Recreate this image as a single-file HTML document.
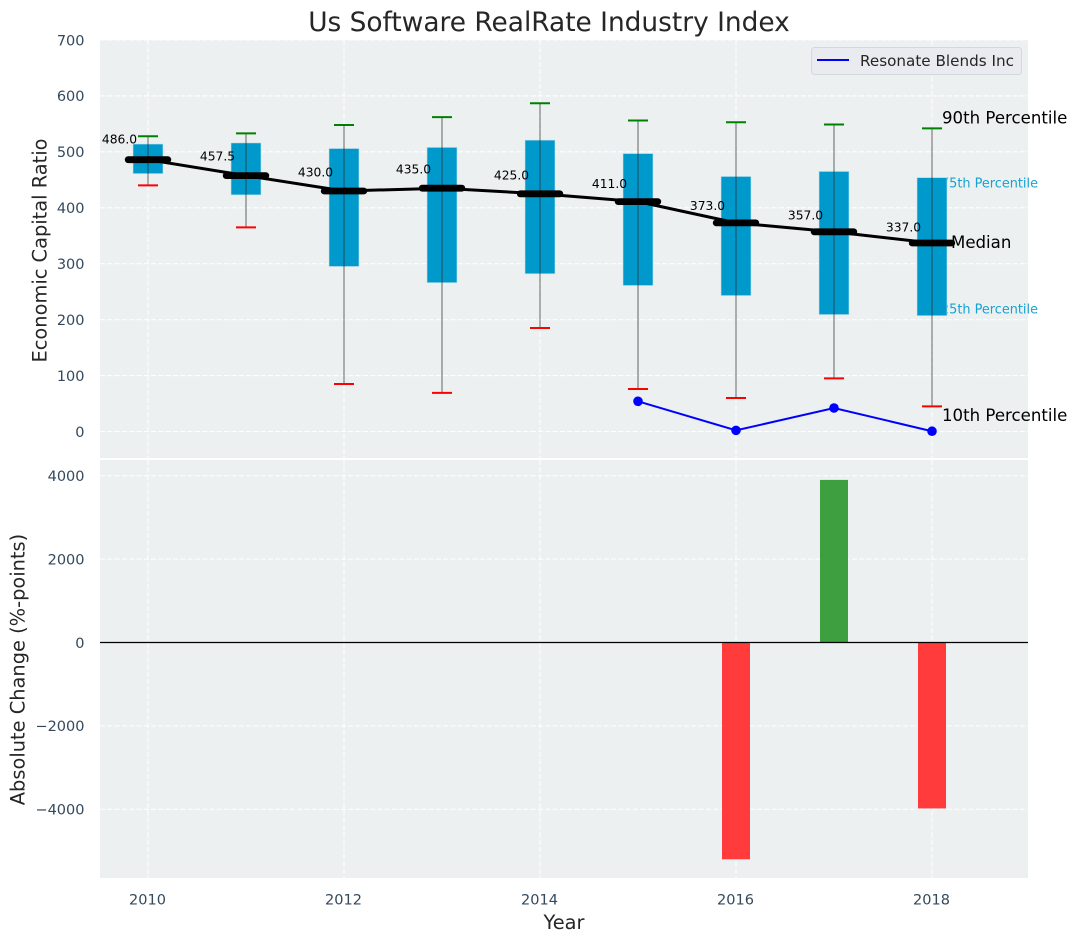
<!DOCTYPE html>
<html lang="en">
<head>
<meta charset="utf-8">
<title>Us Software RealRate Industry Index</title>
<style>
html,body{margin:0;padding:0;background:#fff;width:1077px;height:942px;overflow:hidden}
svg{display:block;font-family:"DejaVu Sans","Liberation Sans",sans-serif}
</style>
</head>
<body>
<svg id="chart" xmlns="http://www.w3.org/2000/svg" width="1077" height="942" viewBox="0 0 1077 942">
  <text x="549" y="31" font-size="26.4" fill="#262626" text-anchor="middle">Us Software RealRate Industry Index</text>
  <rect x="100" y="40" width="928" height="418" fill="#ecf0f1"/>
  <rect x="100" y="460" width="928" height="418" fill="#ecf0f1"/>
  <g id="gridLayer"></g>
  <g id="ticksLayer"></g>
  <g id="annotUnder"></g>
  <g id="boxLayer"></g>
  <g id="medianLayer"></g>
  <g id="companyLayer"></g>
  <g id="barLayer"></g>
  <g id="annotOver"></g>
  <text transform="translate(46.5,250.5) rotate(-90)" font-size="19.4" fill="#262626" text-anchor="middle">Economic Capital Ratio</text>
  <text transform="translate(24.5,669.5) rotate(-90)" font-size="19.4" fill="#262626" text-anchor="middle">Absolute Change (%-points)</text>
  <text x="564" y="929" font-size="19.4" fill="#262626" text-anchor="middle">Year</text>
  <g>
    <rect x="811.5" y="47.5" width="210" height="27" rx="3" fill="#e9ebf0" stroke="#d4d7dc"/>
    <line x1="817" y1="60" x2="849" y2="60" stroke="#0000ff" stroke-width="2"/>
    <text x="860" y="66" font-size="15.2" fill="#262626">Resonate Blends Inc</text>
  </g>
</svg>
<script>
const years = [2010, 2011, 2012, 2013, 2014, 2015, 2016, 2017, 2018];
const p10 = [440, 365, 85, 69, 185, 76, 60, 95, 45];
const p25 = [461, 423, 295, 266, 282, 261, 243, 209, 207];
const medians = [486, 457.5, 430, 435, 425, 411, 373, 357, 337];
const p75 = [514, 516, 506, 508, 521, 497, 456, 465, 454];
const p90 = [528, 533, 548, 562, 587, 556, 553, 549, 542];
const companyYears = [2015, 2016, 2017, 2018];
const companyValues = [54, 2, 42, 0.5];
const changeYears = [2016, 2017, 2018];
const changeValues = [-5200, 3900, -3980];
const topTicks = [0, 100, 200, 300, 400, 500, 600, 700];
const bottomTicks = [-4000, -2000, 0, 2000, 4000];
const xTicks = [2010, 2012, 2014, 2016, 2018];

const NS = 'http://www.w3.org/2000/svg';
const xS = function (v) { return 148 + (v - 2010) * 98; };
const yTop = function (v) { return 431.5 - v * 0.5593; };
const yBot = function (v) { return 642.5 - v * 0.04169; };

function mk(parent, tag, attrs, txt) {
  const el = document.createElementNS(NS, tag);
  for (const k in attrs) el.setAttribute(k, attrs[k]);
  if (txt !== undefined) el.textContent = txt;
  document.getElementById(parent).appendChild(el);
  return el;
}

let el;
const gridStyle = { stroke: '#ffffff', 'stroke-width': 1.1, 'stroke-dasharray': '5.1 2.2', opacity: 0.95 };
const tickSize = 14.5;

topTicks.forEach(function (t) {
  el = mk('gridLayer', 'line', Object.assign({ x1: 100, x2: 1028, y1: yTop(t), y2: yTop(t) }, gridStyle));
  
  
  el = mk('ticksLayer', 'text', { x: 84.5, y: yTop(t) + 5.3, 'font-size': tickSize, fill: '#34495e', 'text-anchor': 'end' }, String(t));
  
  
});

bottomTicks.forEach(function (t) {
  el = mk('gridLayer', 'line', Object.assign({ x1: 100, x2: 1028, y1: yBot(t), y2: yBot(t) }, gridStyle));
  
  
  el = mk('ticksLayer', 'text', { x: 84.5, y: yBot(t) + 5.3, 'font-size': tickSize, fill: '#34495e', 'text-anchor': 'end' }, String(t).replace('-', '\u2212'));
  
  
});

xTicks.forEach(function (t) {
  el = mk('gridLayer', 'line', Object.assign({ x1: xS(t), x2: xS(t), y1: 40, y2: 458 }, gridStyle));
  
  
  el = mk('gridLayer', 'line', Object.assign({ x1: xS(t), x2: xS(t), y1: 460, y2: 878 }, gridStyle));
  
  
  el = mk('ticksLayer', 'text', { x: xS(t) - 0.5, y: 904.5, 'font-size': tickSize, fill: '#34495e', 'text-anchor': 'middle' }, String(t));
  
  
});

const lastIdx = years.length - 1;
const lastX = xS(years[lastIdx]);

el = mk('annotUnder', 'text', { x: lastX + 9, y: yTop(p75[lastIdx]) + 10, 'font-size': 12.85, fill: '#0099cc', opacity: 0.9 }, '75th Percentile');


el = mk('annotUnder', 'text', { x: lastX + 9, y: yTop(p25[lastIdx]) - 2, 'font-size': 12.85, fill: '#0099cc', opacity: 0.9 }, '25th Percentile');



years.forEach(function (yr, i) {
  const cx = xS(yr);
  el = mk('boxLayer', 'rect', { x: cx - 15, y: yTop(p75[i]), width: 30, height: yTop(p25[i]) - yTop(p75[i]), fill: '#0099cc', stroke: '#c5e3ee', 'stroke-width': 0.6 });
  
  
  el = mk('boxLayer', 'line', { x1: cx, x2: cx, y1: yTop(p90[i]), y2: yTop(p10[i]), stroke: '#2c2c2c', 'stroke-width': 1.3, opacity: 0.55 });
  
  
  el = mk('boxLayer', 'line', { x1: cx - 10, x2: cx + 10, y1: yTop(p90[i]), y2: yTop(p90[i]), stroke: '#008000', 'stroke-width': 2 });
  
  
  el = mk('boxLayer', 'line', { x1: cx - 10, x2: cx + 10, y1: yTop(p10[i]), y2: yTop(p10[i]), stroke: '#ff0000', 'stroke-width': 2 });
  
  
});

el = mk('medianLayer', 'polyline', {
  points: years.map(function (yr, i) { return xS(yr) + ',' + yTop(medians[i]); }).join(' '),
  fill: 'none', stroke: '#000000', 'stroke-width': 3
});



years.forEach(function (yr, i) {
  const cx = xS(yr);
  const cy = yTop(medians[i]);
  el = mk('medianLayer', 'line', { x1: cx - 19.8, x2: cx + 19.8, y1: cy, y2: cy, stroke: '#000000', 'stroke-width': 6.8, 'stroke-linecap': 'round' });
  
  
  el = mk('medianLayer', 'text', { x: cx - 28.5, y: cy - (1.5 + 0.03 * medians[i]), 'font-size': 12.3, fill: '#000000', 'text-anchor': 'middle' }, medians[i].toFixed(1));
  
  
});

el = mk('companyLayer', 'polyline', {
  points: companyYears.map(function (yr, i) { return xS(yr) + ',' + yTop(companyValues[i]); }).join(' '),
  fill: 'none', stroke: '#0000ff', 'stroke-width': 2
});



companyYears.forEach(function (yr, i) {
  el = mk('companyLayer', 'circle', { cx: xS(yr), cy: yTop(companyValues[i]), r: 4.8, fill: '#0000ff' });
  
  
});

changeYears.forEach(function (yr, i) {
  const v = changeValues[i];
  const top = yBot(Math.max(v, 0));
  const bottom = yBot(Math.min(v, 0));
  el = mk('barLayer', 'rect', { x: xS(yr) - 14, y: top, width: 28, height: bottom - top, fill: v >= 0 ? '#3d9f40' : '#ff3b3b' });
  
  
});

el = mk('barLayer', 'line', { x1: 100, x2: 1028, y1: yBot(0), y2: yBot(0), stroke: '#000000', 'stroke-width': 1.2 });



el = mk('annotOver', 'text', { x: lastX + 10, y: yTop(p90[lastIdx]) - 5, 'font-size': 16.6, fill: '#000000' }, '90th Percentile');


el = mk('annotOver', 'text', { x: lastX + 19, y: yTop(medians[lastIdx]) + 5, 'font-size': 16.6, fill: '#000000' }, 'Median');


el = mk('annotOver', 'text', { x: lastX + 10, y: yTop(p10[lastIdx]) + 14.5, 'font-size': 16.6, fill: '#000000' }, '10th Percentile');


</script>
</body>
</html>
